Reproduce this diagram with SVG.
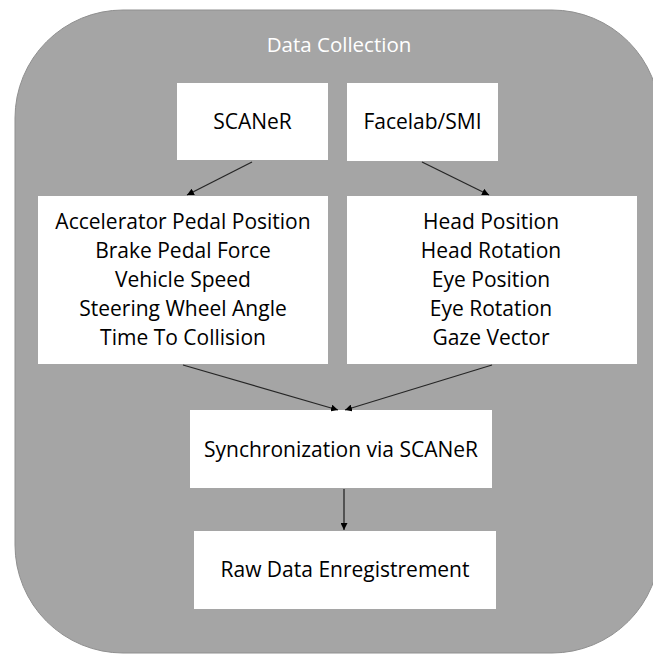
<svg xmlns="http://www.w3.org/2000/svg" width="653" height="655" viewBox="0 0 653 655">
<style>
.box{fill:#ffffff;stroke:none}
.t{font-family:"Open Sans","Liberation Sans",sans-serif;font-size:21px;fill:#000;text-anchor:middle}
.title{font-family:"Open Sans","Liberation Sans",sans-serif;font-size:20.5px;fill:#ffffff;text-anchor:middle}
.c{stroke:#262626;stroke-width:1.3;fill:none;marker-end:url(#ah)}
</style>
<defs>
<marker id="ah" viewBox="0 0 10 10" refX="10" refY="5" markerWidth="7" markerHeight="7" markerUnits="userSpaceOnUse" orient="auto">
<path d="M0,0 L10,5 L0,10 z" fill="#000"/>
</marker>
</defs>
<rect x="0" y="0" width="653" height="655" fill="#ffffff"/>
<g id="container">
<rect x="15" y="10" width="645" height="643" rx="108" ry="108" fill="#a5a5a5" stroke="#8f8f8f" stroke-width="1"/>
<text class="title" x="339" y="52">Data Collection</text>
</g>
<g id="scaner">
<rect class="box" x="177" y="83" width="151" height="77"/>
<text class="t" x="252.5" y="129">SCANeR</text>
</g>
<g id="facelab">
<rect class="box" x="347" y="83" width="151" height="78"/>
<text class="t" x="422.5" y="129">Facelab/SMI</text>
</g>
<g id="scaner-data">
<rect class="box" x="38" y="196" width="290" height="168"/>
<text class="t" x="183" y="229">Accelerator Pedal Position</text>
<text class="t" x="183" y="258">Brake Pedal Force</text>
<text class="t" x="183" y="287">Vehicle Speed</text>
<text class="t" x="183" y="316">Steering Wheel Angle</text>
<text class="t" x="183" y="345">Time To Collision</text>
</g>
<g id="facelab-data">
<rect class="box" x="347" y="196" width="290" height="168"/>
<text class="t" x="491" y="229">Head Position</text>
<text class="t" x="491" y="258">Head Rotation</text>
<text class="t" x="491" y="287">Eye Position</text>
<text class="t" x="491" y="316">Eye Rotation</text>
<text class="t" x="491" y="345">Gaze Vector</text>
</g>
<g id="sync">
<rect class="box" x="190" y="410" width="302" height="78"/>
<text class="t" x="341" y="457">Synchronization via SCANeR</text>
</g>
<g id="raw">
<rect class="box" x="194" y="531" width="302" height="78"/>
<text class="t" x="345" y="577">Raw Data Enregistrement</text>
</g>
<g id="connectors">
<line class="c" x1="252" y1="162" x2="187" y2="195"/>
<line class="c" x1="422" y1="162" x2="489" y2="195"/>
<line class="c" x1="183" y1="365" x2="338" y2="410"/>
<line class="c" x1="492" y1="365" x2="345" y2="410"/>
<line class="c" x1="344" y1="489" x2="344" y2="530"/>
</g>
</svg>
